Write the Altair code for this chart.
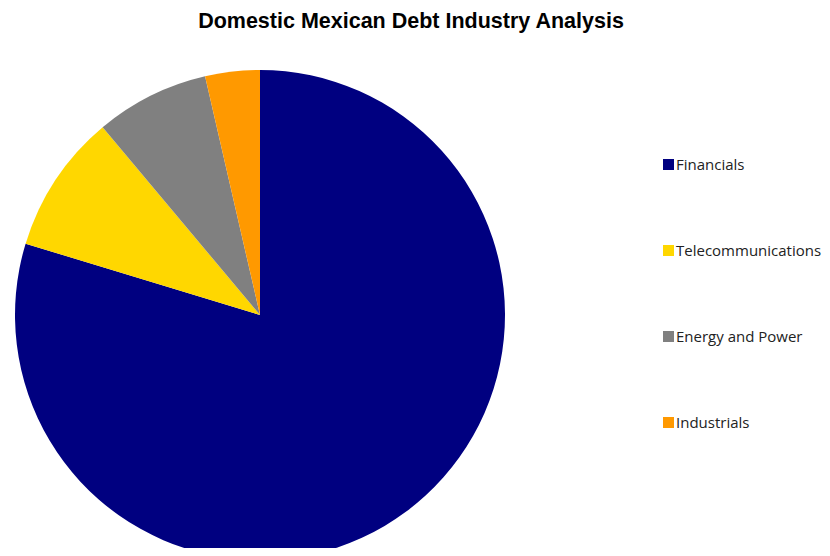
import altair as alt
import pandas as pd

categories = ["Financials", "Telecommunications", "Energy and Power", "Industrials"]
values = [79.7, 9.2, 7.5, 3.6]
colors = ["#000080", "#FFD700", "#808080", "#FF9900"]

df = pd.DataFrame({"category": categories, "value": values, "idx": list(range(len(categories)))})

chart = alt.Chart(df).mark_arc(radius=245, stroke=None).encode(
    theta=alt.Theta("value:Q", stack=True),
    order=alt.Order("idx:Q"),
    x=alt.value(252),
    y=alt.value(262),
    color=alt.Color(
        "category:N",
        sort=categories,
        scale=alt.Scale(domain=categories, range=colors),
        legend=alt.Legend(
            title=None,
            orient="none",
            legendX=653,
            legendY=104,
            symbolType="square",
            symbolSize=121,
            symbolStrokeWidth=0,
            labelFont="Open Sans",
            labelFontSize=15,
            labelColor="#222222",
            rowPadding=70,
            labelOffset=0,
        ),
    ),
).properties(
    width=814,
    height=495,
    autosize=alt.AutoSizeParams(type="none"),
    padding={"left": 0, "right": 0, "top": 45, "bottom": 0},
    title=alt.TitleParams(
        "Domestic Mexican Debt Industry Analysis",
        font="Liberation Sans",
        fontSize=21.5,
        fontWeight="bold",
        color="#000000",
        anchor="middle",
        offset=21,
        dx=-4,
    ),
).configure_view(stroke=None)

chart.save("out.html", embed_options={"renderer": "svg", "actions": False})
